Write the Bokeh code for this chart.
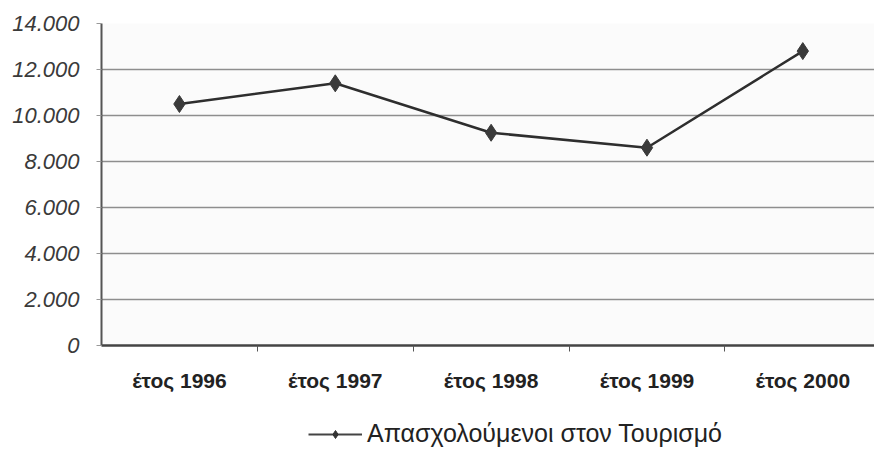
import numpy as np
from bokeh.plotting import figure
from bokeh.models import Range1d, FixedTicker, Legend, LegendItem
from bokeh.layouts import column
from bokeh.embed import file_html
from bokeh.resources import INLINE

categories = ["έτος 1996", "έτος 1997", "έτος 1998", "έτος 1999", "έτος 2000"]
employed = [10500, 11400, 9250, 8600, 12800]
y_ticks = [0, 2000, 4000, 6000, 8000, 10000, 12000, 14000]
y_tick_labels = ["0", "2.000", "4.000", "6.000", "8.000", "10.000", "12.000", "14.000"]
series_name = "Απασχολούμενοι στον Τουρισμό"

xs = list(range(len(categories)))

p = figure(width=874, height=400, output_backend="svg", toolbar_location=None,
           x_range=Range1d(-0.5, 4.46), y_range=Range1d(0, 14000),
           min_border_left=101, min_border_right=0, min_border_top=23, min_border_bottom=55)
p.outline_line_color = None
p.background_fill_color = "#fbfbfb"
p.border_fill_color = "white"

line = p.line(xs, employed, line_color="#2e2e2e", line_width=2.5)
pts = p.scatter(xs, employed, marker="diamond", size=17, fill_color="#3a3a3a",
                line_color="#3a3a3a")

# y axis
p.yaxis.ticker = FixedTicker(ticks=y_ticks, minor_ticks=[])
p.yaxis.major_label_overrides = {t: l for t, l in zip(y_ticks, y_tick_labels)}
p.yaxis.major_label_text_font = "Liberation Sans"
p.yaxis.major_label_text_font_style = "italic"
p.yaxis.major_label_text_font_size = "22px"
p.yaxis.major_label_text_color = "#3a3a3a"
p.yaxis.axis_line_color = "#555555"
p.yaxis.axis_line_width = 2
p.yaxis.major_tick_line_color = "#999999"
p.yaxis.major_tick_in = 0
p.yaxis.major_tick_out = 5
p.yaxis.major_label_standoff = 17

# x axis
p.xaxis.ticker = FixedTicker(ticks=xs, minor_ticks=[0.5, 1.5, 2.5, 3.5])
p.xaxis.major_label_overrides = {x: c for x, c in zip(xs, categories)}
p.xaxis.major_label_text_font = "Liberation Sans"
p.xaxis.major_label_text_font_style = "bold"
p.xaxis.major_label_text_font_size = "21px"
p.xaxis.major_label_text_color = "#222222"
p.xaxis.axis_line_color = "#444444"
p.xaxis.axis_line_width = 2.5
p.xaxis.major_tick_line_color = None
p.xaxis.major_tick_in = 0
p.xaxis.major_tick_out = 0
p.xaxis.minor_tick_line_color = "#555555"
p.xaxis.minor_tick_in = 0
p.xaxis.minor_tick_out = 6
p.xaxis.major_label_standoff = 17

p.xgrid.grid_line_color = None
p.ygrid.ticker = FixedTicker(ticks=y_ticks)
p.ygrid.grid_line_color = "#8e8e8e"
p.ygrid.grid_line_width = 1.5

# legend strip below the chart (its frame is aligned with the chart's frame)
lg = figure(width=874, height=53, output_backend="svg", toolbar_location=None,
            x_axis_location=None, y_axis_location=None,
            x_range=Range1d(0, 1), y_range=Range1d(0, 1),
            min_border_left=0, min_border_right=0, min_border_top=0, min_border_bottom=0)
lg.grid.visible = False
lg.outline_line_color = None
nan = np.array([np.nan])
leg_line = lg.line(x=nan, y=nan, line_color="#444444", line_width=2)
leg_pts = lg.scatter(x=nan, y=nan, marker="diamond", size=15, fill_color="#333333",
                     line_color="#333333")
legend = Legend(items=[LegendItem(label=series_name, renderers=[leg_line, leg_pts])],
                location=(207, 5), orientation="horizontal",
                glyph_width=54, glyph_height=20, label_standoff=5,
                padding=0, margin=0, border_line_color=None,
                background_fill_alpha=0,
                label_text_font="Liberation Sans",
                label_text_font_size="25px", label_text_color="#222222")
lg.add_layout(legend, "center")

layout = column(p, lg, spacing=0)
open("out.html", "w").write(file_html(layout, INLINE))
